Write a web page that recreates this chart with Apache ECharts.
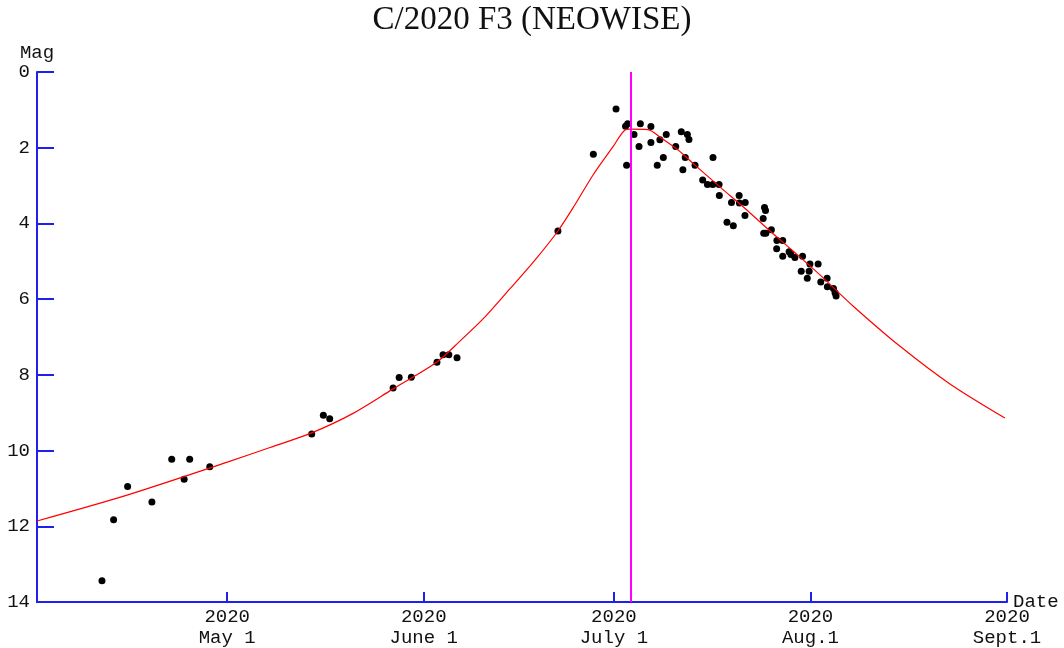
<!DOCTYPE html>
<html>
<head>
<meta charset="utf-8">
<title>C/2020 F3 (NEOWISE)</title>
<script src="https://cdn.jsdelivr.net/npm/echarts@6/dist/echarts.min.js"></script>
<style>
  html, body { margin: 0; padding: 0; background: #fff; }
  #chart { width: 1064px; height: 648px; }
</style>
</head>
<body>
<div id="chart"></div>
<script>
var pointDates = [
  '2020-04-11T06:00', '2020-04-13T02:00', '2020-04-15T07:00', '2020-04-19T03:00',
  '2020-04-22T06:00', '2020-04-24T05:00', '2020-04-25T02:00', '2020-04-28T06:00',
  '2020-05-14T08:00', '2020-05-16T04:00', '2020-05-17T04:00', '2020-05-27T04:00',
  '2020-05-28T03:00', '2020-05-30T01:00', '2020-06-03T02:00', '2020-06-04T01:00',
  '2020-06-04T23:00', '2020-06-06T06:00', '2020-06-22T04:00', '2020-06-27T18:00',
  '2020-07-01T08:00', '2020-07-02T20:00', '2020-07-03T04:00', '2020-07-03T00:00',
  '2020-07-04T04:00', '2020-07-05T04:00', '2020-07-06T20:00', '2020-07-04T23:00',
  '2020-07-06T20:00', '2020-07-08T06:00', '2020-07-09T06:00', '2020-07-07T20:00',
  '2020-07-08T19:00', '2020-07-10T18:00', '2020-07-11T15:00', '2020-07-12T14:00',
  '2020-07-12T20:00', '2020-07-12T06:00', '2020-07-11T21:00', '2020-07-13T19:00',
  '2020-07-16T15:00', '2020-07-15T00:00', '2020-07-15T18:00', '2020-07-16T14:00',
  '2020-07-17T14:00', '2020-07-17T15:00', '2020-07-19T13:00', '2020-07-20T18:00',
  '2020-07-20T19:00', '2020-07-21T17:00', '2020-07-21T16:00', '2020-07-18T20:00',
  '2020-07-19T20:00', '2020-07-24T18:00', '2020-07-24T22:00', '2020-07-24T13:00',
  '2020-07-24T15:00', '2020-07-24T23:00', '2020-07-25T20:00', '2020-07-26T17:00',
  '2020-07-27T15:00', '2020-07-26T16:00', '2020-07-28T15:00', '2020-07-28T22:00',
  '2020-07-27T15:00', '2020-07-29T13:00', '2020-07-30T18:00', '2020-07-31T22:00',
  '2020-08-02T05:00', '2020-07-30T13:00', '2020-07-31T19:00', '2020-07-31T12:00',
  '2020-08-03T15:00', '2020-08-02T15:00', '2020-08-03T16:00', '2020-08-04T15:00',
  '2020-08-04T21:00', '2020-08-05T01:00'
];
var pointMags = [
  13.44, 11.83, 10.95, 11.36,
  10.23, 10.76, 10.23, 10.43,
  9.56, 9.07, 9.16, 8.35,
  8.07, 8.06, 7.67, 7.47,
  7.47, 7.55, 4.20, 2.17,
  0.98, 1.43, 1.37, 2.46,
  1.65, 1.37, 1.44, 1.97,
  1.86, 1.79, 1.65, 2.46,
  2.26, 1.97, 1.58, 1.65,
  1.78, 2.26, 2.58, 2.46,
  2.26, 2.85, 2.97, 2.97,
  2.97, 3.26, 3.45, 3.26,
  3.46, 3.45, 3.79, 3.97,
  4.06, 3.58, 3.66, 3.87,
  4.26, 4.26, 4.17, 4.45,
  4.45, 4.67, 4.75, 4.82,
  4.87, 4.90, 4.87, 5.07,
  5.07, 5.26, 5.26, 5.45,
  5.45, 5.55, 5.67, 5.72,
  5.83, 5.92
];

// predicted light curve
var curveDates = [
  '2020-04-01T00:00', '2020-04-15T08:00', '2020-05-01T03:00', '2020-05-07T18:00',
  '2020-05-14T05:00', '2020-05-20T17:00', '2020-05-27T04:00', '2020-06-03T02:00',
  '2020-06-06T17:00', '2020-06-10T16:00', '2020-06-14T14:00', '2020-06-18T13:00',
  '2020-06-22T04:00', '2020-06-24T21:00', '2020-06-27T17:00', '2020-06-30T20:00',
  '2020-07-02T18:00', '2020-07-03T13:00', '2020-07-06T09:00', '2020-07-08T06:00',
  '2020-07-11T03:00', '2020-07-13T19:00', '2020-07-17T18:00', '2020-07-22T00:00',
  '2020-07-25T15:00', '2020-07-29T06:00', '2020-08-02T12:00', '2020-08-07T17:00',
  '2020-08-15T02:00', '2020-08-23T00:00', '2020-08-31T16:00'
];
var curveMags = [
  11.86, 11.17, 10.30, 9.92,
  9.54, 9.03, 8.37, 7.66,
  7.11, 6.47, 5.73, 4.97,
  4.20, 3.50, 2.72, 1.98,
  1.53, 1.51, 1.52, 1.72,
  2.06, 2.46, 3.04, 3.65,
  4.20, 4.73, 5.36, 6.18,
  7.24, 8.24, 9.14
];

var tickDates = ['2020-05-01T00:00', '2020-06-01T00:00', '2020-07-01T00:00', '2020-08-01T00:00', '2020-09-01T00:00'];
var tickLabels = ['2020\nMay 1', '2020\nJune 1', '2020\nJuly 1', '2020\nAug.1', '2020\nSept.1'];
var magTicks = [0, 2, 4, 6, 8, 10, 12, 14];
var perihelionDate = '2020-07-03T15:00';
var startDate = '2020-04-01T00:00';
var endDate = '2020-09-01T00:00';

var toTime = function (s) { return +echarts.time.parse(s); };
var axisBlue = '#2020ee';
var mono = 'Liberation Mono';

var tickTimes = tickDates.map(toTime);
var points = pointDates.map(function (d, i) { return [toTime(d), pointMags[i]]; });
var curve = curveDates.map(function (d, i) { return [toTime(d), curveMags[i]]; });

var chart = echarts.init(document.getElementById('chart'));
var option = {
  backgroundColor: '#fff',
  animation: false,
  graphic: [
    {
      type: 'text', left: 'center', top: 4,
      style: { text: 'C/2020 F3 (NEOWISE)', font: '33px "Liberation Serif"', fill: '#111' }
    },
    {
      type: 'text', x: 37, y: 62,
      style: { text: 'Mag', font: '19px "' + mono + '"', fill: '#111', textAlign: 'center', textVerticalAlign: 'bottom' }
    }
  ],
  grid: { left: 37, right: 57, top: 72, bottom: 46, containLabel: false, outerBoundsMode: 'none' },
  xAxis: {
    type: 'value',
    position: 'bottom',
    min: toTime(startDate),
    max: toTime(endDate),
    name: 'Date',
    nameLocation: 'end',
    nameGap: 6,
    nameMoveOverlap: false,
    nameTextStyle: { fontFamily: mono, fontSize: 19, color: '#111' },
    splitLine: { show: false },
    axisLine: { onZero: false, lineStyle: { color: axisBlue, width: 2 } },
    axisTick: { inside: true, length: 10, customValues: tickTimes, lineStyle: { color: axisBlue, width: 2 } },
    axisLabel: {
      customValues: tickTimes,
      fontFamily: mono, fontSize: 19, color: '#111', lineHeight: 21, margin: 4,
      formatter: function (v) {
        var i = tickTimes.indexOf(v);
        return i >= 0 ? tickLabels[i] : '';
      }
    }
  },
  yAxis: {
    type: 'value',
    inverse: true,
    min: 0,
    max: 14,
    splitLine: { show: false },
    axisLine: { onZero: false, lineStyle: { color: axisBlue, width: 2 } },
    axisTick: { inside: true, length: 17, customValues: magTicks, lineStyle: { color: axisBlue, width: 2 } },
    axisLabel: { customValues: magTicks, fontFamily: mono, fontSize: 19, color: '#111', margin: 7 }
  },
  series: [
    {
      name: 'curve',
      type: 'line',
      data: curve,
      smooth: 0.3,
      showSymbol: false,
      lineStyle: { color: '#ff0000', width: 1.2 },
      silent: true
    },
    {
      name: 'obs',
      type: 'scatter',
      data: points,
      symbolSize: 7,
      itemStyle: { color: '#000', opacity: 1 },
      markLine: {
        silent: true,
        symbol: 'none',
        label: { show: false },
        lineStyle: { color: '#ff00ff', width: 2, type: 'solid' },
        data: [{ xAxis: toTime(perihelionDate) }]
      }
    }
  ]
};
chart.setOption(option);
</script>
</body>
</html>
